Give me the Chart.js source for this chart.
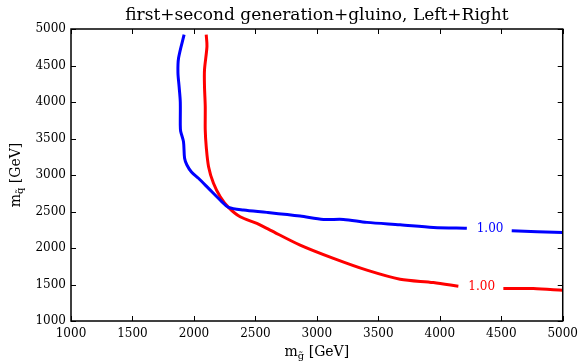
<!DOCTYPE html>
<html>
<head>
<meta charset="utf-8">
<script src="https://cdn.jsdelivr.net/npm/chart.js@4"></script>
<style>
  html, body { margin: 0; padding: 0; background: #fff; }
  canvas { display: block; }
</style>
</head>
<body>
<canvas id="contourChart" width="584" height="364"></canvas>
<script>
// contour values (null = gap where the label sits)
var blueX = [1920, 1875, 1870, 1880, 1889, 1889, 1892, 1915, 1924, 1943, 1980, 2037, 2119, 2228, 2281, 2403, 2593, 2864, 3054, 3216, 3407, 3677, 3948, 4220, null, 4585, 5000];
var blueY = [4922, 4602, 4400, 4200, 4000, 3686, 3600, 3457, 3229, 3137, 3040, 2955, 2817, 2633, 2557, 2520, 2488, 2437, 2392, 2392, 2351, 2318, 2282, 2272, null, 2235, 2213];

var redX = [2100, 2106, 2086, 2086, 2092, 2092, 2100, 2119, 2159, 2214, 2281, 2376, 2512, 2620, 2864, 3135, 3407, 3677, 3948, 4151, null, 4517, 4761, 5000];
var redY = [4922, 4761, 4441, 4212, 3938, 3618, 3388, 3114, 2886, 2702, 2557, 2428, 2337, 2245, 2039, 1857, 1696, 1572, 1527, 1476, null, 1445, 1445, 1421];

// contour level labels: text, position, colour
var contourLabels = ['1.00', '1.00'];
var contourLabelX = [4409, 4341];
var contourLabelY = [2259, 1467];
var contourColors = ['#0000ff', '#ff0000'];

var tickValues = [1000, 1500, 2000, 2500, 3000, 3500, 4000, 4500, 5000];

var titleText = 'first+second generation+gluino, Left+Right';

function toPoints(xs, ys) {
    var pts = [];
    for (var i = 0; i < xs.length; i++) {
        pts.push(xs[i] === null ? { x: null, y: null } : { x: xs[i], y: ys[i] });
    }
    return pts;
}

var serif = '"DejaVu Serif", serif';

// draw "m" + subscript + " [GeV]"
function drawMassLabel(ctx, sub, x, y) {
    ctx.font = '14px ' + serif;
    var w1 = ctx.measureText('m').width;
    ctx.font = '10px ' + serif;
    var w2 = ctx.measureText(sub).width;
    ctx.font = '14px ' + serif;
    var w3 = ctx.measureText(' [GeV]').width;
    var start = x - (w1 + w2 + w3) / 2;
    ctx.textAlign = 'left';
    ctx.textBaseline = 'alphabetic';
    ctx.fillText('m', start, y);
    ctx.font = '10px ' + serif;
    ctx.fillText(sub, start + w1, y + 3);
    ctx.font = '14px ' + serif;
    ctx.fillText(' [GeV]', start + w1 + w2, y);
}

var decorPlugin = {
    id: 'decor',
    afterDraw: function (chart) {
        var ctx = chart.ctx;
        var a = chart.chartArea;
        var xs = chart.scales.x;
        var ys = chart.scales.y;
        ctx.save();

        // frame
        ctx.strokeStyle = '#000';
        ctx.lineWidth = 1.5;
        ctx.strokeRect(a.left, a.top, a.right - a.left, a.bottom - a.top);

        // inward ticks on all four sides
        ctx.lineWidth = 1;
        ctx.beginPath();
        tickValues.forEach(function (v) {
            var px = Math.round(xs.getPixelForValue(v)) + 0.5;
            ctx.moveTo(px, a.bottom); ctx.lineTo(px, a.bottom - 5);
            ctx.moveTo(px, a.top); ctx.lineTo(px, a.top + 5);
            var py = Math.round(ys.getPixelForValue(v)) + 0.5;
            ctx.moveTo(a.left, py); ctx.lineTo(a.left + 5, py);
            ctx.moveTo(a.right, py); ctx.lineTo(a.right - 5, py);
        });
        ctx.stroke();

        // contour labels
        ctx.font = '12px ' + serif;
        ctx.textAlign = 'center';
        ctx.textBaseline = 'middle';
        for (var i = 0; i < contourLabels.length; i++) {
            ctx.fillStyle = contourColors[i];
            ctx.fillText(contourLabels[i], xs.getPixelForValue(contourLabelX[i]), ys.getPixelForValue(contourLabelY[i]));
        }

        // title
        ctx.fillStyle = '#000';
        ctx.font = '17px ' + serif;
        ctx.textAlign = 'center';
        ctx.textBaseline = 'alphabetic';
        ctx.fillText(titleText, (a.left + a.right) / 2, 20);

        // x axis title
        drawMassLabel(ctx, 'g\u0303', (a.left + a.right) / 2, 356);

        // y axis title (rotated)
        ctx.translate(20, (a.top + a.bottom) / 2);
        ctx.rotate(-Math.PI / 2);
        drawMassLabel(ctx, 'q\u0303', 0, 0);

        ctx.restore();
    }
};

var axisFont = { family: serif, size: 12 };

function plainTick(v) { return String(v); }

var ctx = document.getElementById('contourChart').getContext('2d');
var chart = new Chart(ctx, {
    type: 'scatter',
    data: {
        datasets: [{
            label: 'blue',
            data: toPoints(blueX, blueY),
            showLine: true,
            borderColor: '#0000ff',
            borderWidth: 3,
            pointRadius: 0,
            tension: 0.3,
            spanGaps: false
        }, {
            label: 'red',
            data: toPoints(redX, redY),
            showLine: true,
            borderColor: '#ff0000',
            borderWidth: 3,
            pointRadius: 0,
            tension: 0.3,
            spanGaps: false
        }]
    },
    options: {
        responsive: false,
        animation: false,
        devicePixelRatio: 1,
        layout: { padding: { top: 29, right: 19, left: 0, bottom: 0 } },
        plugins: {
            legend: { display: false },
            tooltip: { enabled: false }
        },
        scales: {
            x: {
                type: 'linear',
                min: 1000,
                max: 5000,
                afterBuildTicks: function (scale) {
                    scale.ticks = tickValues.map(function (v) { return { value: v }; });
                },
                afterFit: function (scale) { scale.height = 43; },
                grid: { display: false, drawTicks: false },
                border: { display: false },
                ticks: { font: axisFont, color: '#000', padding: 6, maxRotation: 0, callback: plainTick }
            },
            y: {
                type: 'linear',
                min: 1000,
                max: 5000,
                afterBuildTicks: function (scale) {
                    scale.ticks = tickValues.map(function (v) { return { value: v }; });
                },
                afterFit: function (scale) { scale.width = 71; },
                grid: { display: false, drawTicks: false },
                border: { display: false },
                ticks: { font: axisFont, color: '#000', padding: 5, callback: plainTick }
            }
        }
    },
    plugins: [decorPlugin]
});
</script>
</body>
</html>
